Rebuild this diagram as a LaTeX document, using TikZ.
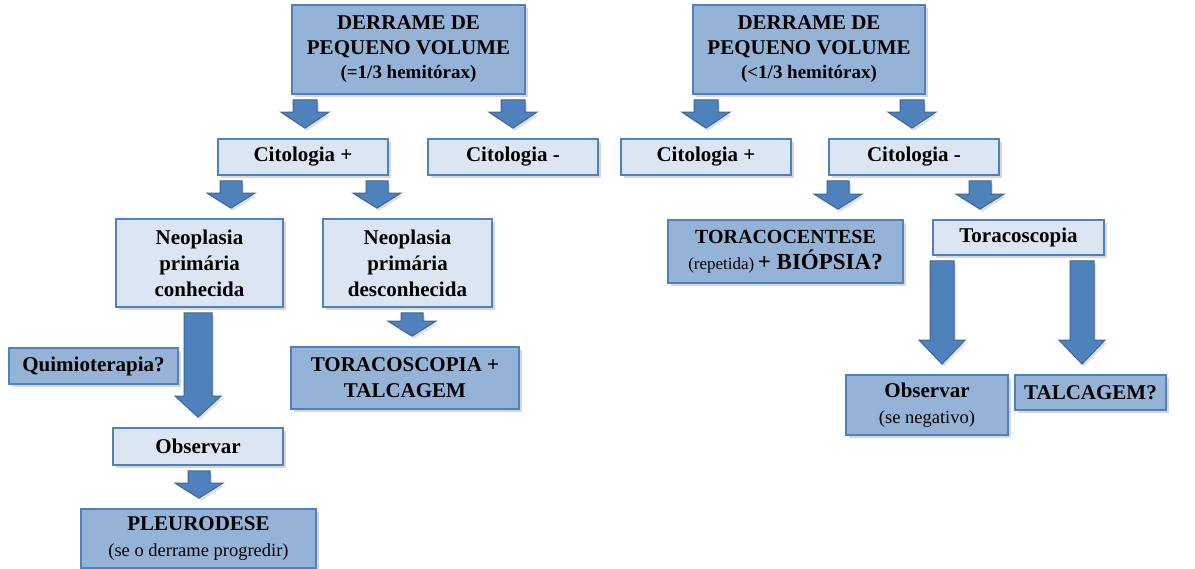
\documentclass[tikz,border=0pt]{standalone}
\usepackage{fontspec}
\setmainfont{Liberation Serif}
\usetikzlibrary{shadows,calc}
\definecolor{bd}{HTML}{4F81BD}
\definecolor{dk}{HTML}{95B3D7}
\definecolor{lt}{HTML}{DCE6F2}
\definecolor{ad}{HTML}{3C6696}
\tikzset{
 box/.style={draw=bd, line width=1.8pt, align=center, inner sep=0pt,
   font=\bfseries\fontsize{21}{24.5}\selectfont,
   drop shadow={shadow xshift=2.5pt, shadow yshift=-3pt, opacity=0.3}},
 dkbox/.style={box, fill=dk},
 ltbox/.style={box, fill=lt},
 tall/.style={font=\bfseries\fontsize{21}{26}\selectfont},
 barr/.style={fill=bd, draw=ad, line width=1pt,
   drop shadow={shadow xshift=2pt, shadow yshift=-2.5pt, opacity=0.25}}
}
\newcommand{\sml}{\mdseries\fontsize{18.5}{20}\selectfont}
\newcommand{\smb}{\fontsize{19}{20}\selectfont}
% block arrow: from node, to node, x, shaft half width, head half width, head length
\newcommand{\barrow}[6]{%
 \filldraw[barr] let \p1=(#1.south), \p2=(#2.north) in
  ({#3pt-#4pt},{\y1-5pt}) -- ({#3pt+#4pt},{\y1-5pt}) --
  ({#3pt+#4pt},{\y2+10pt+#6pt}) -- ({#3pt+#5pt},{\y2+10pt+#6pt}) --
  ({#3pt},{\y2+10pt}) -- ({#3pt-#5pt},{\y2+10pt+#6pt}) --
  ({#3pt-#4pt},{\y2+10pt+#6pt}) -- cycle;}
\begin{document}
\begin{tikzpicture}[x=1pt,y=-1pt]
\useasboundingbox[fill=white] (0,0) rectangle (1195,569);
% top boxes
\node[dkbox, minimum width=233, minimum height=89] (d1) at (408.5,49.5)
  {DERRAME DE\\PEQUENO VOLUME\\{\smb (=1/3 hemitórax)}};
\node[dkbox, minimum width=232, minimum height=89] (d2) at (809,49.5)
  {DERRAME DE\\PEQUENO VOLUME\\{\smb (<1/3 hemitórax)}};
% citologia
\node[ltbox, minimum width=170, minimum height=36] (c1) at (303,157) {Citologia +};
\node[ltbox, minimum width=170, minimum height=36] (c2) at (513,157) {Citologia -};
\node[ltbox, minimum width=170, minimum height=36] (c3) at (706,157) {Citologia +};
\node[ltbox, minimum width=170, minimum height=36] (c4) at (914,157) {Citologia -};
% left branch
\node[ltbox, tall, minimum width=167, minimum height=88] (n1) at (199.5,263)
  {Neoplasia\\primária\\conhecida};
\node[ltbox, tall, minimum width=169, minimum height=88] (n2) at (407.5,263)
  {Neoplasia\\primária\\desconhecida};
\node[dkbox, minimum width=169, minimum height=36] (q) at (93.5,366) {Quimioterapia?};
\node[dkbox, tall, minimum width=228, minimum height=62] (tt) at (405,378)
  {TORACOSCOPIA +\\TALCAGEM};
\node[ltbox, minimum width=170, minimum height=37] (o1) at (198,446.5) {Observar};
\node[dkbox, tall, minimum width=235, minimum height=59] (pl) at (198.5,538.5)
  {PLEURODESE\\{\sml (se o derrame progredir)}};
% right branch
\node[dkbox, tall, minimum width=235, minimum height=63] (tc) at (785.5,251.5)
  {{\fontsize{20}{26}\selectfont TORACOCENTESE}\\{\mdseries\fontsize{17}{18}\selectfont (repetida)}\,{\fontsize{23}{26}\selectfont + BIÓPSIA?}};
\node[ltbox, minimum width=171, minimum height=35] (to) at (1018.5,237.5) {Toracoscopia};
\node[dkbox, tall, minimum width=162, minimum height=60] (o2) at (927,405)
  {Observar\\{\sml (se negativo)}};
\node[dkbox, minimum width=151, minimum height=35] (tg) at (1090.5,392.5) {TALCAGEM?};
% block arrows
\barrow{d1}{c1}{305}{12}{24}{16}
\barrow{d1}{c2}{513}{12}{24}{16}
\barrow{d2}{c3}{706}{12}{24}{16}
\barrow{d2}{c4}{912}{12}{24}{16}
\barrow{c1}{n1}{231}{11}{24}{15}
\barrow{c1}{n2}{377}{11}{24}{15}
\barrow{n2}{tt}{412}{11}{24}{15}
\barrow{n1}{o1}{198}{14}{23}{21}
\barrow{o1}{pl}{199}{11}{24}{15}
\barrow{c4}{tc}{838}{11}{24}{15}
\barrow{c4}{to}{980}{11}{24}{15}
\barrow{to}{o2}{942}{12}{23}{24}
\barrow{to}{tg}{1082}{12}{23}{24}
\end{tikzpicture}
\end{document}
